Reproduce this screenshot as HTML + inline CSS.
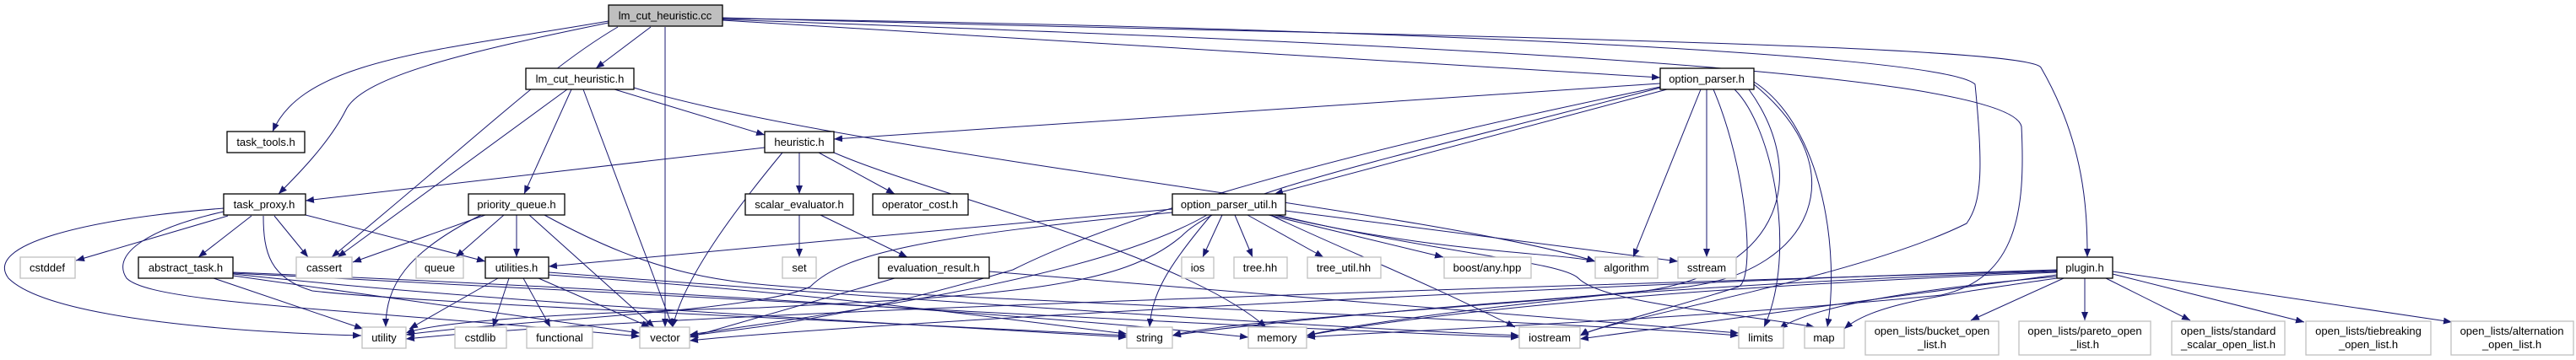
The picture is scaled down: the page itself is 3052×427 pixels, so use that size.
<!DOCTYPE html>
<html><head><meta charset="utf-8"><style>html,body{margin:0;padding:0;background:#fff}svg{display:block}</style></head>
<body>
<svg width="3052" height="427" viewBox="0 0 3052 427" xmlns="http://www.w3.org/2000/svg" font-family="Liberation Sans, sans-serif" font-size="13">
<defs><marker id="a" markerWidth="10" markerHeight="8" refX="10" refY="4" orient="auto" markerUnits="userSpaceOnUse"><path d="M0,0 L10,4 L0,8 z" fill="#191970"/></marker></defs>
<g fill="none" stroke="#191970" stroke-width="1" marker-end="url(#a)">
<path d="M721,25 C520,60 360,70 323,156"/>
<path d="M721,27 C560,60 430,90 410,130 C390,170 350,210 330,230"/>
<path d="M732,32 C650,80 580,150 393,305"/>
<path d="M771,32 L706,81"/>
<path d="M788,32 L788,388"/>
<path d="M856,24 L1967,92"/>
<path d="M856,21 C1500,40 2400,50 2418,80 C2470,170 2473,250 2473,305"/>
<path d="M856,22 C1500,30 2300,60 2340,100 C2350,200 2348,240 2330,265 C2200,330 1900,380 1872,398"/>
<path d="M856,23 C1600,50 2380,80 2395,150 C2400,250 2390,330 2300,350 C2000,380 1600,395 1548,400"/>
<path d="M728,106 L906,160"/>
<path d="M677,106 L621,230"/>
<path d="M672,106 L400,305"/>
<path d="M691,106 L797,388"/>
<path d="M751,104 C1000,180 1700,250 1890,310"/>
<path d="M906,175 L362,238"/>
<path d="M947,181 L947,230"/>
<path d="M970,181 L1060,230"/>
<path d="M927,181 C870,250 810,330 797,388"/>
<path d="M988,181 C1100,230 1400,300 1500,388"/>
<path d="M1967,99 L988,165"/>
<path d="M1975,106 L1510,230"/>
<path d="M1967,104 C1600,200 1450,230 1400,280 C1330,340 1200,350 900,365 C700,370 520,380 481,395"/>
<path d="M2015,106 L1935,305"/>
<path d="M2022,106 L2022,305"/>
<path d="M2030,106 C2070,200 2080,330 2060,340 C2000,360 1900,385 1872,398"/>
<path d="M2055,106 C2100,150 2130,300 2090,388"/>
<path d="M2078,97 C2160,150 2180,300 2165,388"/>
<path d="M2078,100 C2200,200 2150,320 2000,340 C1700,370 1450,380 1389,398"/>
<path d="M2072,106 C2140,200 2120,320 1950,345 C1700,370 1580,390 1548,398"/>
<path d="M1967,103 C1500,200 1300,270 1200,320 C1000,380 880,390 817,398"/>
<path d="M1389,248 L650,316"/>
<path d="M1389,252 C1100,280 1000,300 960,340 C900,370 600,380 481,397"/>
<path d="M1430,255 C1300,330 1000,370 817,397"/>
<path d="M1435,255 C1380,320 1365,350 1362,388"/>
<path d="M1448,255 L1425,305"/>
<path d="M1463,255 L1484,305"/>
<path d="M1478,255 L1568,305"/>
<path d="M1503,255 L1710,305"/>
<path d="M1510,255 C1700,300 1850,300 1890,310"/>
<path d="M1523,250 L1988,310"/>
<path d="M1505,255 C1600,300 1680,330 1795,388"/>
<path d="M1513,255 C1700,300 1850,310 1870,330 C1900,360 2050,370 2150,388"/>
<path d="M947,255 L947,305"/>
<path d="M972,255 L1075,305"/>
<path d="M1060,330 L817,400"/>
<path d="M1172,322 L2060,395"/>
<path d="M270,256 L90,309"/>
<path d="M298,256 L235,305"/>
<path d="M325,256 L365,305"/>
<path d="M362,255 L575,310"/>
<path d="M265,247 C100,260 -20,290 10,330 C60,380 300,395 428,398"/>
<path d="M265,251 C180,270 130,300 150,330 C180,360 400,365 758,399"/>
<path d="M312,256 C312,300 320,330 370,345 C500,360 1000,380 1335,398"/>
<path d="M253,330 L430,390"/>
<path d="M276,327 L758,395"/>
<path d="M276,325 C600,360 1000,380 1335,400"/>
<path d="M276,323 C700,340 1200,370 1479,400"/>
<path d="M276,324 C800,350 1500,390 1800,400"/>
<path d="M575,255 L418,311"/>
<path d="M597,255 L540,305"/>
<path d="M612,255 L612,305"/>
<path d="M570,255 C480,300 457,340 457,388"/>
<path d="M627,255 L775,388"/>
<path d="M645,255 C800,340 880,335 1000,345 C1500,370 1900,385 2060,398"/>
<path d="M590,330 L485,390"/>
<path d="M603,330 L584,388"/>
<path d="M620,330 L652,388"/>
<path d="M638,330 L770,388"/>
<path d="M650,323 C1000,350 1500,385 1800,398"/>
<path d="M650,326 C1000,350 1200,380 1335,396"/>
<path d="M2445,330 L2335,380"/>
<path d="M2470,330 L2470,380"/>
<path d="M2495,330 L2595,380"/>
<path d="M2503,325 L2730,382"/>
<path d="M2503,322 L2905,382"/>
<path d="M2437,330 C2300,350 2220,360 2185,390"/>
<path d="M2437,328 C2300,340 2150,360 2108,390"/>
<path d="M2437,326 L1872,402"/>
<path d="M2437,323 C2000,340 1700,370 1548,398"/>
<path d="M2437,322 C2000,335 1500,380 1389,398"/>
<path d="M2437,320 C1800,340 1000,385 817,404"/>
<path d="M2437,321 C1800,340 800,370 481,402"/>
</g>
<g stroke-width="1.3">
<rect x="721" y="6" width="135" height="25" fill="#bfbfbf" stroke="#000"/>
<g fill="#fff" stroke="#000">
<rect x="623" y="81" width="128" height="25"/>
<rect x="1967" y="81" width="111" height="25"/>
<rect x="269" y="156" width="92" height="25"/>
<rect x="906" y="156" width="82" height="25"/>
<rect x="265" y="230" width="97" height="25"/>
<rect x="555" y="230" width="114" height="25"/>
<rect x="883" y="230" width="128" height="25"/>
<rect x="1034" y="230" width="113" height="25"/>
<rect x="1389" y="230" width="134" height="25"/>
<rect x="164" y="305" width="112" height="25"/>
<rect x="575" y="305" width="75" height="25"/>
<rect x="1041" y="305" width="131" height="25"/>
<rect x="2437" y="305" width="66" height="25"/>
</g>
<g fill="#fff" stroke="#bfbfbf">
<rect x="24" y="305" width="65" height="25"/>
<rect x="351" y="305" width="66" height="25"/>
<rect x="493" y="305" width="56" height="25"/>
<rect x="927" y="305" width="40" height="25"/>
<rect x="1400" y="305" width="38" height="25"/>
<rect x="1462" y="305" width="63" height="25"/>
<rect x="1549" y="305" width="87" height="25"/>
<rect x="1711" y="305" width="103" height="25"/>
<rect x="1890" y="305" width="74" height="25"/>
<rect x="1988" y="305" width="69" height="25"/>
<rect x="429" y="388" width="52" height="25"/>
<rect x="539" y="388" width="61" height="25"/>
<rect x="624" y="388" width="78" height="25"/>
<rect x="758" y="388" width="59" height="25"/>
<rect x="1335" y="388" width="54" height="25"/>
<rect x="1479" y="388" width="69" height="25"/>
<rect x="1800" y="388" width="72" height="25"/>
<rect x="2060" y="388" width="53" height="25"/>
<rect x="2138" y="388" width="47" height="25"/>
<rect x="2210" y="381" width="158" height="40"/>
<rect x="2392" y="381" width="156" height="40"/>
<rect x="2573" y="381" width="134" height="40"/>
<rect x="2732" y="381" width="148" height="40"/>
<rect x="2904" y="381" width="145" height="40"/>
</g>
</g>
<g fill="#000" text-anchor="middle">
<text x="788" y="23">lm_cut_heuristic.cc</text>
<text x="687" y="98">lm_cut_heuristic.h</text>
<text x="2022" y="98">option_parser.h</text>
<text x="315" y="173">task_tools.h</text>
<text x="947" y="173">heuristic.h</text>
<text x="313" y="247">task_proxy.h</text>
<text x="612" y="247">priority_queue.h</text>
<text x="947" y="247">scalar_evaluator.h</text>
<text x="1090" y="247">operator_cost.h</text>
<text x="1456" y="247">option_parser_util.h</text>
<text x="56" y="322">cstddef</text>
<text x="220" y="322">abstract_task.h</text>
<text x="384" y="322">cassert</text>
<text x="521" y="322">queue</text>
<text x="612" y="322">utilities.h</text>
<text x="947" y="322">set</text>
<text x="1106" y="322">evaluation_result.h</text>
<text x="1419" y="322">ios</text>
<text x="1493" y="322">tree.hh</text>
<text x="1592" y="322">tree_util.hh</text>
<text x="1762" y="322">boost/any.hpp</text>
<text x="1927" y="322">algorithm</text>
<text x="2022" y="322">sstream</text>
<text x="2470" y="322">plugin.h</text>
<text x="455" y="405">utility</text>
<text x="569" y="405">cstdlib</text>
<text x="663" y="405">functional</text>
<text x="788" y="405">vector</text>
<text x="1362" y="405">string</text>
<text x="1513" y="405">memory</text>
<text x="1836" y="405">iostream</text>
<text x="2086" y="405">limits</text>
<text x="2161" y="405">map</text>
<text x="2289" y="397">open_lists/bucket_open</text><text x="2289" y="413">_list.h</text>
<text x="2470" y="397">open_lists/pareto_open</text><text x="2470" y="413">_list.h</text>
<text x="2640" y="397">open_lists/standard</text><text x="2640" y="413">_scalar_open_list.h</text>
<text x="2806" y="397">open_lists/tiebreaking</text><text x="2806" y="413">_open_list.h</text>
<text x="2976" y="397">open_lists/alternation</text><text x="2976" y="413">_open_list.h</text>
</g>
</svg>
</body></html>
